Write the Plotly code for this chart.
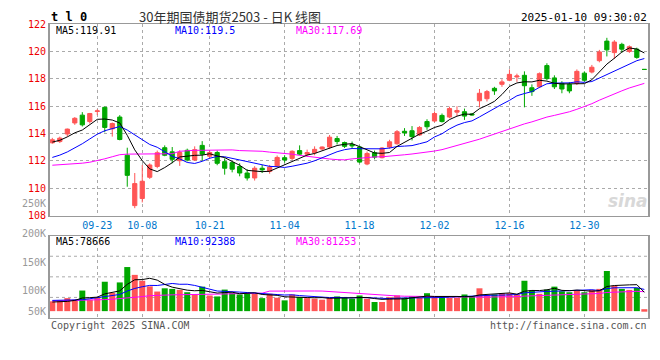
import plotly.graph_objects as go
import pandas as pd

# ---------------- data ----------------
dates = (
    ["2024-09-11", "2024-09-12", "2024-09-13", "2024-09-18", "2024-09-19", "2024-09-20",
     "2024-09-23", "2024-09-24", "2024-09-25", "2024-09-26", "2024-09-27", "2024-09-30"]
    + ["2024-10-%02d" % d for d in [8, 9, 10, 11, 14, 15, 16, 17, 18, 21, 22, 23, 24, 25, 28, 29, 30, 31]]
    + ["2024-11-%02d" % d for d in [1, 4, 5, 6, 7, 8, 11, 12, 13, 14, 15, 18, 19, 20, 21, 22, 25, 26, 27, 28, 29]]
    + ["2024-12-%02d" % d for d in [2, 3, 4, 5, 6, 9, 10, 11, 12, 13, 16, 17, 18, 19, 20, 23, 24, 25, 26, 27, 30, 31]]
    + ["2025-01-%02d" % d for d in [2, 3, 6, 7, 8, 9, 10]]
)

opens = [113.32, 113.41, 113.96, 114.77, 115.34, 114.87, 115.61, 115.91, 114.34, 115.20,
         112.41, 108.73, 109.25, 110.80, 111.59, 112.96, 112.66, 112.01, 112.77, 112.06,
         113.13, 112.34, 112.61, 111.94, 111.87, 111.59, 111.11, 110.75, 111.46, 111.23,
         111.63, 112.23, 112.18, 112.75, 112.49, 112.59, 112.87, 113.01, 113.63, 113.34,
         113.20, 113.01, 111.77, 112.59, 112.23, 113.01, 113.25, 114.16, 114.20, 113.89,
         114.87, 114.91, 115.32, 115.20, 115.56, 115.59, 115.43, 116.39, 116.54, 117.30,
         117.59, 117.89, 118.13, 118.25, 117.34, 117.41, 118.96, 118.06, 117.66, 117.59,
         117.66, 118.41, 118.49, 119.32, 120.75, 119.91, 120.51, 119.99, 120.16, 118.68]
highs = [113.68, 113.77, 114.36, 115.20, 115.56, 115.50, 115.77, 115.96, 114.80, 115.34,
         112.96, 111.11, 111.70, 111.82, 112.75, 113.13, 113.01, 112.77, 112.89, 113.06,
         113.44, 112.75, 112.75, 112.18, 111.96, 111.82, 111.39, 111.61, 111.70, 111.70,
         112.39, 112.41, 112.77, 113.13, 112.82, 113.06, 113.06, 113.89, 113.82, 113.41,
         113.41, 113.11, 112.68, 112.75, 113.01, 113.54, 114.25, 114.39, 114.54, 114.54,
         115.04, 115.61, 115.46, 115.96, 115.99, 115.82, 115.50, 117.25, 117.18, 117.41,
         117.96, 118.68, 118.37, 118.54, 117.59, 118.46, 119.13, 118.25, 117.82, 117.75,
         118.68, 118.54, 119.01, 120.11, 120.99, 120.82, 120.63, 120.44, 120.27, 118.70]
lows = [113.25, 113.30, 113.77, 114.63, 114.51, 114.73, 115.34, 114.09, 113.77, 113.50,
        110.11, 108.54, 108.96, 110.68, 111.46, 112.34, 111.82, 111.63, 111.96, 111.99,
        112.01, 112.18, 111.68, 110.99, 111.16, 110.87, 110.56, 110.56, 111.11, 111.06,
        111.54, 111.87, 112.06, 112.41, 112.30, 112.41, 112.77, 112.89, 113.20, 112.94,
        112.89, 111.82, 111.68, 112.11, 112.18, 112.89, 113.18, 113.82, 113.49, 113.82,
        114.27, 114.82, 114.80, 115.11, 115.27, 114.99, 115.30, 115.91, 116.34, 116.82,
        117.41, 117.82, 117.77, 115.91, 116.75, 117.32, 117.89, 117.25, 116.94, 116.94,
        117.54, 117.77, 118.39, 119.20, 119.63, 119.44, 119.91, 119.89, 119.46, 118.66]
closes = [113.54, 113.66, 114.32, 115.11, 114.63, 115.46, 115.65, 114.44, 114.73, 113.56,
          110.94, 110.34, 110.51, 111.70, 112.59, 112.41, 112.11, 112.61, 112.06, 112.82,
          112.49, 112.61, 111.82, 111.46, 111.39, 111.11, 110.75, 111.46, 111.34, 111.54,
          112.25, 112.06, 112.70, 112.49, 112.61, 112.84, 113.01, 113.73, 113.41, 113.06,
          113.09, 111.91, 112.54, 112.27, 112.94, 113.39, 114.13, 114.04, 113.77, 114.44,
          114.49, 115.46, 114.87, 115.82, 115.68, 115.27, 115.36, 116.94, 117.06, 117.11,
          117.77, 118.32, 118.20, 117.49, 117.06, 118.37, 118.01, 117.41, 117.25, 117.11,
          118.54, 117.89, 118.84, 119.96, 120.11, 120.68, 120.16, 120.34, 119.56, 118.68]
volumes = [41200, 45300, 54700, 48100, 86400, 48100, 56400, 123500, 77000, 120600,
           185200, 152300, 127600, 104100, 82300, 95900, 93400, 89300, 79400, 70000,
           102900, 65800, 61700, 90500, 77000, 70000, 75300, 72800, 54700, 72800,
           56400, 45300, 70000, 58800, 54700, 52300, 48100, 56400, 61700, 55600,
           52300, 65800, 52300, 38300, 38300, 58800, 65800, 56400, 61700, 56400,
           75300, 58800, 61700, 56400, 56400, 70000, 61700, 95900, 65800, 70000,
           75300, 75300, 70000, 127600, 86400, 72800, 90500, 102900, 83500, 79400,
           86400, 79400, 89300, 93400, 168700, 107000, 93400, 89300, 97500, 8200]

# moving-average values before a full window is available
ma5_early = [113.37, 113.50, 113.75, 114.05]
ma10_early = [112.25, 112.42, 112.65, 112.92, 113.25, 113.60, 113.95, 114.20, 114.38]
ma30_early = [111.68, 111.71, 111.75, 111.79, 111.83, 111.90, 112.00, 112.15, 112.30, 112.45,
              112.49, 112.49, 112.49, 112.50, 112.50, 112.50, 112.52, 112.70, 112.75, 112.77,
              112.77, 112.78, 112.78, 112.78, 112.80, 112.75, 112.74, 112.72, 112.70]
vma5_early = [38300, 39000, 41000, 45000]
vma10_early = [45000, 45500, 46000, 47000, 48000, 52000, 57000, 62000, 66000]
vma30_early = [42500, 43000, 43500, 44000, 45000, 46000, 47000, 48500, 50000, 52000,
               55000, 58000, 61000, 65000, 67000, 68000, 68500, 69000, 69000, 69000,
               70000, 70500, 71000, 72000, 73000, 74000, 75000, 75000, 75500]

tick_dates = ["2024-09-23", "2024-10-08", "2024-10-21", "2024-11-04",
              "2024-11-18", "2024-12-02", "2024-12-16", "2024-12-30"]
tick_text = ["09-23", "10-08", "10-21", "11-04", "11-18", "12-02", "12-16", "12-30"]
price_ticks = [108, 110, 112, 114, 116, 118, 120, 122]
vol_tick_labels = ["250K", "200K", "150K", "100K", "50K"]
price_ma_text = ["MA5:119.91", "MA10:119.5", "MA30:117.69"]
vol_ma_text = ["MA5:78666", "MA10:92388", "MA30:81253"]

# ---------------- helpers ----------------
def moving_average(values, n, early):
    s = pd.Series(values, dtype=float).rolling(n).mean().to_numpy()
    s[: n - 1] = early
    return s

ma5 = moving_average(closes, 5, ma5_early)
ma10 = moving_average(closes, 10, ma10_early)
ma30 = moving_average(closes, 30, ma30_early)
vma5 = moving_average(volumes, 5, vma5_early)
vma10 = moving_average(volumes, 10, vma10_early)
vma30 = moving_average(volumes, 30, vma30_early)

RED = "#FF5555"
GREEN = "#00A800"
GRID = "#AAAAAA"
FRAME = "#999999"
MONO = "DejaVu Sans Mono"
MA_COLORS = ["#000000", "#0000FF", "#FF00FF"]

# the page body has an 8px margin: the figure is sized so that it ends at the window edge
OFF = 8
WIN_W, WIN_H = 660, 360
W, H = WIN_W - OFF, WIN_H - OFF
# plot frame in window pixel coordinates
L, R, T, B = 50, 649, 18, 318


def px(x):
    return (x - L) / (R - L)


def py(y):
    return (B - y) / (B - T)


bar_colors = [RED if c >= o else GREEN for o, c in zip(opens, closes)]

fig = go.Figure()
fig.add_trace(go.Candlestick(
    x=dates, open=opens, high=highs, low=lows, close=closes,
    increasing=dict(line=dict(color=RED, width=1), fillcolor=RED),
    decreasing=dict(line=dict(color=GREEN, width=1), fillcolor=GREEN),
    whiskerwidth=0, showlegend=False, hoverinfo="skip", xaxis="x", yaxis="y"))
for vals, col in zip([ma30, ma10, ma5], MA_COLORS[::-1]):
    fig.add_trace(go.Scatter(x=dates, y=vals, mode="lines", line=dict(color=col, width=1),
                             showlegend=False, hoverinfo="skip", xaxis="x", yaxis="y"))

fig.add_trace(go.Bar(x=dates, y=volumes, marker=dict(color=bar_colors, line=dict(width=0)),
                     showlegend=False, hoverinfo="skip", xaxis="x2", yaxis="y2"))
for vals, col in zip([vma30, vma10, vma5], MA_COLORS[::-1]):
    fig.add_trace(go.Scatter(x=dates, y=vals, mode="lines", line=dict(color=col, width=1),
                             showlegend=False, hoverinfo="skip", xaxis="x2", yaxis="y2"))

main_bottom = py(213.5)
vol_top = py(234)
vol_zero_px = 311
vol_px_per_unit = 0.243 / 1000.0
vol_range = [-(B - vol_zero_px) / vol_px_per_unit, (vol_zero_px - 234) / vol_px_per_unit]

xcommon = dict(showline=True, linecolor=FRAME, linewidth=1, mirror=True, zeroline=False,
               ticks="", fixedrange=True)
ycommon = dict(showline=True, linecolor=FRAME, linewidth=2, mirror=True, zeroline=False,
               ticks="", fixedrange=True)
fig.update_layout(
    width=W, height=H,
    margin=dict(l=L - OFF, r=W - (R - OFF), t=T - OFF, b=H - (B - OFF), pad=0),
    paper_bgcolor="white", plot_bgcolor="white",
    boxgap=0.2, bargap=0.2,
    hovermode=False,
    xaxis=dict(domain=[0, 1], type="category", range=[-0.31, 79.49], anchor="y",
               tickvals=tick_dates, ticktext=tick_text,
               tickfont=dict(family=MONO, size=10, color="#0077CC"),
               showgrid=True, gridcolor=GRID, griddash="dot", gridwidth=1,
               rangeslider=dict(visible=False), **xcommon),
    yaxis=dict(domain=[main_bottom, 1], range=[108, 122], anchor="x",
               tickvals=price_ticks, tickfont=dict(family=MONO, size=10, color="#EE0000"),
               showgrid=True, gridcolor=GRID, griddash="dot", gridwidth=1, **ycommon),
    xaxis2=dict(domain=[0, 1], type="category", range=[-0.31, 79.49], anchor="y2",
                tickvals=tick_dates, showticklabels=False,
                showgrid=True, gridcolor=GRID, griddash="dot", gridwidth=1, **xcommon),
    yaxis2=dict(domain=[0, vol_top], range=vol_range, anchor="x2",
                showticklabels=False, showgrid=False, **ycommon),
)

shapes = []
for f in [0.25, 0.5, 0.75]:
    shapes.append(dict(type="line", xref="x2 domain", yref="y2 domain", x0=0, x1=1, y0=f, y1=f,
                       line=dict(color=GRID, width=1, dash="dot"), layer="below"))
fig.update_layout(shapes=shapes)

ann = []
def text(x, y, s, color="#000", size=10, anchor="left", family=MONO, height=None):
    a = dict(x=px(x), y=py(y), xref="paper", yref="paper", text=s, showarrow=False,
             xanchor=anchor, yanchor="middle", borderpad=0,
             font=dict(family=family, size=size, color=color))
    if height is not None:
        a["height"] = height
    ann.append(a)

text(50, 10.5, "<b>t l 0</b>", size=12, height=14)
text(230, 10, "30年期国债期货2503 - 日K 线图", color="#333", size=13, anchor="center",
     family="Noto Sans CJK SC", height=15)
text(649, 11.5, "2025-01-10 09:30:02", size=11, anchor="right", height=13)
for xpos, s, c in zip([55, 174, 295], price_ma_text, MA_COLORS):
    text(xpos, 24.5, s, color=c, size=10, height=11)
for xpos, s, c in zip([55, 174, 295], vol_ma_text, MA_COLORS):
    text(xpos, 240, s, color=c, size=10, height=11)
for ypos, s in zip([201, 232, 261, 290, 311], vol_tick_labels):
    text(47, ypos, s, color="#999", size=10, anchor="right", height=11)
text(50, 326, "Copyright 2025 SINA.COM", color="#555", size=10, height=11)
text(649, 326, "http://finance.sina.com.cn", color="#555", size=10, anchor="right", height=11)
text(629, 199, "<b><i>sina</i></b>", color="#D8D8D8", size=17, anchor="center",
     family="DejaVu Sans")
fig.update_layout(annotations=ann)

fig.write_html("out.html")
